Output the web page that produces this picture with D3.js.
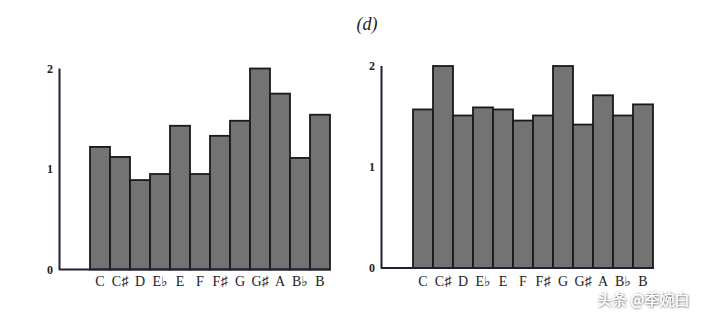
<!DOCTYPE html>
<html><head><meta charset="utf-8">
<script src="https://cdn.jsdelivr.net/npm/d3@7/dist/d3.min.js"></script>
<style>body{margin:0;background:#fff}svg{display:block}</style>
</head><body>
<script>
const notes = ["C","C♯","D","E♭","E","F","F♯","G","G♯","A","B♭","B"];
const leftValues  = [1.22,1.12,0.89,0.95,1.43,0.95,1.33,1.48,2.00,1.75,1.11,1.54];
const rightValues = [1.57,2.00,1.51,1.59,1.57,1.46,1.51,2.00,1.42,1.71,1.51,1.62];
const yTicks = [0,1,2];
const titleText = "(d)";
const watermark = "头条 @季婉白";

const W = 720, H = 312;
const svg = d3.select("body").append("svg").attr("width", W).attr("height", H);

const defs = svg.append("defs");
const f = defs.append("filter").attr("id","sh").attr("x","-10%").attr("y","-30%").attr("width","120%").attr("height","160%");
f.append("feDropShadow").attr("dx",0.5).attr("dy",0.5).attr("stdDeviation",0.8).attr("flood-color","#000").attr("flood-opacity",0.8);

svg.append("text").attr("x", 367).attr("y", 30).attr("text-anchor","middle")
  .attr("font-family","'Liberation Serif','DejaVu Serif',serif").attr("font-style","italic")
  .attr("font-size",18).attr("fill","#222").text(titleText);

const panels = [
  {values: leftValues, axisX: 59.5, x0: 90, x1: 330, y0: 269.5, y1: 68.5, labX: 50},
  {values: rightValues, axisX: 381.5, x0: 413, x1: 653, y0: 268, y1: 66, labX: 372}
];

panels.forEach(p => {
  const g = svg.append("g");
  const x = d3.scaleBand().domain(notes).range([p.x0, p.x1]).padding(0);
  const y = d3.scaleLinear().domain([0,2]).range([p.y0, p.y1]);

  g.selectAll("rect").data(notes).join("rect")
    .attr("x", d => x(d)).attr("width", x.bandwidth())
    .attr("y", (d,i) => y(p.values[i])).attr("height", (d,i) => y(0) - y(p.values[i]))
    .attr("fill","#737373").attr("stroke","#1a1a1a").attr("stroke-width",1.8);

  g.append("path")
    .attr("d", `M${p.axisX},${y(2)} L${p.axisX},${y(0)} L${p.x1+1},${y(0)}`)
    .attr("fill","none").attr("stroke","#231f30").attr("stroke-width",2).attr("stroke-linejoin","round");

  g.selectAll("text.yt").data(yTicks).join("text").attr("class","yt")
    .attr("x", p.labX).attr("y", d => y(d)).attr("dy","0.35em")
    .attr("text-anchor","middle")
    .attr("font-family","'Liberation Serif','DejaVu Serif',serif").attr("font-weight","bold")
    .attr("font-size",12).attr("fill","#222").text(d => d);

  g.selectAll("text.xt").data(notes).join("text").attr("class","xt")
    .attr("x", d => x(d) + x.bandwidth()/2).attr("y", 286)
    .attr("text-anchor","middle")
    .attr("font-family","'Liberation Serif','DejaVu Serif',serif")
    .attr("font-size",14).attr("fill","#222").text(d => d);
});

svg.append("text").attr("x", 597).attr("y", 305)
  .attr("font-family","'Noto Sans CJK SC',sans-serif").attr("font-size",15)
  .attr("fill","#fff").attr("filter","url(#sh)").text(watermark);
</script>
</body></html>
